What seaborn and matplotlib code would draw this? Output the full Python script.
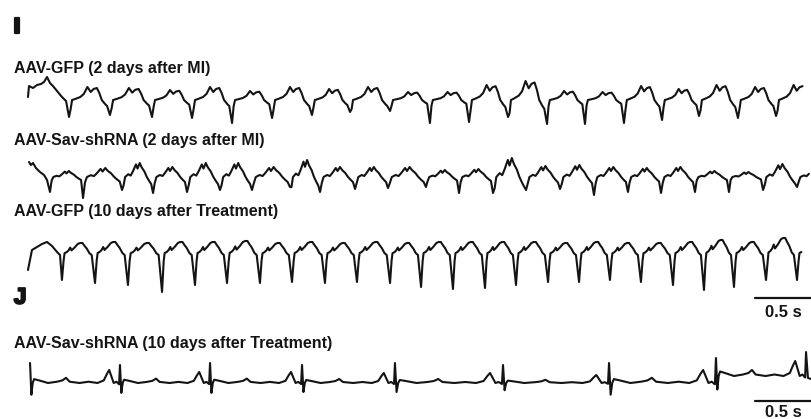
import matplotlib
matplotlib.use("Agg")
import matplotlib.pyplot as plt
import matplotlib.patheffects as pe
import numpy as np
import pandas as pd
import seaborn as sns

sns.set_theme(style="white")
plt.rcParams['font.family'] = ['Liberation Sans', 'DejaVu Sans']

# ---------------- data (time in s, amplitude in a.u.) ----------------
panel_letters = ["I", "J"]
trace_labels = ["AAV-GFP (2 days after MI)",
                "AAV-Sav-shRNA (2 days after MI)",
                "AAV-GFP (10 days after Treatment)",
                "AAV-Sav-shRNA (10 days after Treatment)"]
scale_label = "0.5 s"
scale_len_s = 0.5

# Trace 1: AAV-GFP 2 d after MI
t1_spikes = [0.430, 0.789, 1.158, 1.509, 1.860, 2.211, 2.561, 2.895, 3.246, 3.596,
             3.939, 4.281, 4.623, 4.956, 5.298, 5.632, 5.956, 6.298, 6.632, 6.974]
t1_depth = [-17, -15, -17, -18, -23, -18, -15, -12, -11, -23,
            -22, -17, -24, -24, -23, -20, -16, -18, -16]
t1_bump = [13, 12, 10, 13, 9, 13, 11, 13, 8, 8, 15, 19, 9, 8, 14, 11, 15, 13, 15]
t1_beat = [(0.04, -9), (0.075, 0), (0.15, 1), (0.275, 3), (0.36, 6), (0.45, 13),
           (0.53, 8), (0.60, 11), (0.68, 12), (0.74, 7), (0.80, 0), (0.88, -4), (0.93, -6)]
t1_lead_t = [0.070, 0.079, 0.114, 0.149, 0.184, 0.211, 0.237, 0.263, 0.289, 0.325, 0.368, 0.404]
t1_lead_v = [3, 14, 12, 15, 16, 18, 23, 17, 14, 9, 3, -1]
t1_end = 6.877

# Trace 2: AAV-Sav-shRNA 2 d after MI
t2_spikes = [0.263, 0.553, 0.895, 1.167, 1.465, 1.754, 2.035, 2.368, 2.632, 2.939, 3.228,
             3.561, 3.851, 4.149, 4.439, 4.737, 5.035, 5.333, 5.623, 5.921, 6.219, 6.518,
             6.816, 7.114]
t2_depth = [-15, -21, -13, -16, -15, -13, -13, -10, -15, -12, -11, -10, -16, -16, -13,
            -12, -18, -15, -16, -15, -15, -13, -10]
t2_bump = [6, 9, 14, 10, 14, 14, 10, 17, 10, 10, 10, 7, 8, 19, 11, 12, 10, 9, 10, 6, 5, 13, 8]
t2_beat = [(0.05, -6), (0.10, 0), (0.20, 2), (0.28, 1), (0.35, 4), (0.45, 9), (0.50, 6),
           (0.57, 10), (0.63, 7), (0.72, 4), (0.80, 0), (0.88, -3), (0.94, -5)]
t2_lead_t = [0.079, 0.096, 0.114, 0.140, 0.175, 0.211, 0.237]
t2_lead_v = [15, 12, 14, 9, 5, 2, -3]
t2_end = 6.939

# Trace 3: AAV-GFP 10 d after treatment
t3_spikes = [0.368, 0.658, 0.947, 1.246, 1.535, 1.816, 2.105, 2.386, 2.675, 2.956, 3.246,
             3.518, 3.798, 4.079, 4.351, 4.632, 4.904, 5.175, 5.447, 5.728, 6.000, 6.263,
             6.544, 6.816, 7.088]
t3_depth = [-25, -28, -30, -37, -30, -28, -28, -27, -28, -27, -28, -32, -34, -33, -30,
            -27, -27, -25, -27, -30, -35, -32, -25, -25]
t3_bump = [12, 13, 12, 13, 13, 14, 12, 13, 12, 13, 12, 13, 13, 13, 13, 12, 13, 12, 12,
           13, 15, 13, 17, 13]
t3_beat = [(0.05, -6), (0.08, 2), (0.14, 3), (0.20, 5), (0.25, 8), (0.29, 5), (0.38, 8),
           (0.48, 12), (0.55, 13), (0.62, 13), (0.68, 10), (0.75, 7), (0.83, 2), (0.90, 0)]
t3_lead_t = [0.070, 0.105, 0.149, 0.193, 0.237, 0.281, 0.325, 0.351]
t3_lead_v = [-15, 5, 8, 11, 13, 9, 3, 0]
t3_end = 6.868

# Trace 4: AAV-Sav-shRNA 10 d after treatment
t4_r = [0.088, 0.877, 1.667, 2.474, 3.289, 4.237, 5.167, 6.105, 6.895]
t4_r_amp = [20, 18, 20, 18, 20, 18, 20, 25, 31]
t4_p_amp = [13, 11, 11, 10, 10, 8, 13, 15]
t4_offset = [0, 0, 0, 0, 0, 0, 0, 7]
t4_beat = [(0.015, -9), (0.03, 0), (0.045, 3), (0.10, 2), (0.20, 0), (0.30, 1), (0.36, 2),
           (0.40, 4), (0.44, 1), (0.55, 0), (0.65, 1), (0.75, 0), (0.82, 2), (0.855, 7),
           (0.88, 10), (0.905, 5), (0.93, 0), (0.96, 1), (0.99, -1)]
t4_trail_t = [6.912, 6.939]
t4_trail_v = [5, 4]


def build(spikes, spike_vals, beat, scales, lead_t=(), lead_v=(), t_end=None,
          offsets=None, trail_t=(), trail_v=()):
    ts, vs = list(lead_t), list(lead_v)
    peak = max(v for _, v in beat)
    for i, sv in enumerate(spike_vals):
        t0 = spikes[i]
        ts.append(t0)
        vs.append(sv)
        if i + 1 < len(spikes):
            t1 = spikes[i + 1]
            s = scales[i] / peak
            off = offsets[i] if offsets else 0
            for ph, v in beat:
                ts.append(t0 + ph * (t1 - t0))
                vs.append(v * s + off)
    ts += list(trail_t)
    vs += list(trail_v)
    df = pd.DataFrame({"t": ts, "v": vs})
    if t_end is not None:
        df = df[df["t"] <= t_end]
    return df


traces = [
    build(t1_spikes, t1_depth, t1_beat, t1_bump, t1_lead_t, t1_lead_v, t1_end),
    build(t2_spikes, t2_depth, t2_beat, t2_bump, t2_lead_t, t2_lead_v, t2_end),
    build(t3_spikes, t3_depth, t3_beat, t3_bump, t3_lead_t, t3_lead_v, t3_end),
    build(t4_r, t4_r_amp, t4_beat, t4_p_amp, offsets=t4_offset,
          trail_t=t4_trail_t, trail_v=t4_trail_v),
]

# ---------------- layout (pixels of the 812x419 canvas) ----------------
W, H = 812, 419
SPP = 0.5 / 57               # seconds per pixel
x0_px = 20
xlim = (-x0_px * SPP, (W - x0_px) * SPP)
ref_px = [100, 177, 255, 383]
half = 45

fig = plt.figure(figsize=(W / 100, H / 100), dpi=100)
ink = "#141414"

for df, ref in zip(traces, ref_px):
    ax = fig.add_axes([0, 1 - (ref + half) / H, 1, 2 * half / H])
    sns.lineplot(data=df, x="t", y="v", ax=ax, color=ink, linewidth=1.5,
                 sort=False, estimator=None)
    ax.set_xlim(*xlim)
    ax.set_ylim(-half, half)
    ax.axis("off")

# scale bars
for bar_px in [298, 401]:
    axb = fig.add_axes([0, 1 - (bar_px + 5) / H, 1, 10 / H])
    xe = xlim[1]
    sns.lineplot(x=[xe - scale_len_s, xe], y=[0, 0], ax=axb, color=ink, linewidth=1.6)
    axb.set_xlim(*xlim)
    axb.set_ylim(-1, 1)
    axb.axis("off")

for ytxt in [312, 412]:
    fig.text(783 / W, 1 - ytxt / H, scale_label, fontsize=12, fontweight="bold",
             ha="center", va="center", color=ink)

# panel letters
thick = [pe.withStroke(linewidth=1.6, foreground=ink)]
fig.text(14 / W, 1 - 28 / H, panel_letters[0], fontsize=16, fontweight="bold",
         ha="left", va="center", color=ink, path_effects=thick)
fig.text(14 / W, 1 - 298 / H, panel_letters[1], fontsize=16, fontweight="bold",
         ha="left", va="center", color=ink, path_effects=thick)

# trace labels
for lab, ytxt in zip(trace_labels, [68, 141, 211, 343]):
    fig.text(14 / W, 1 - ytxt / H, lab, fontsize=11.5, fontweight="bold",
             ha="left", va="center", color=ink)

fig.savefig("out.png", dpi=100, facecolor="white")
